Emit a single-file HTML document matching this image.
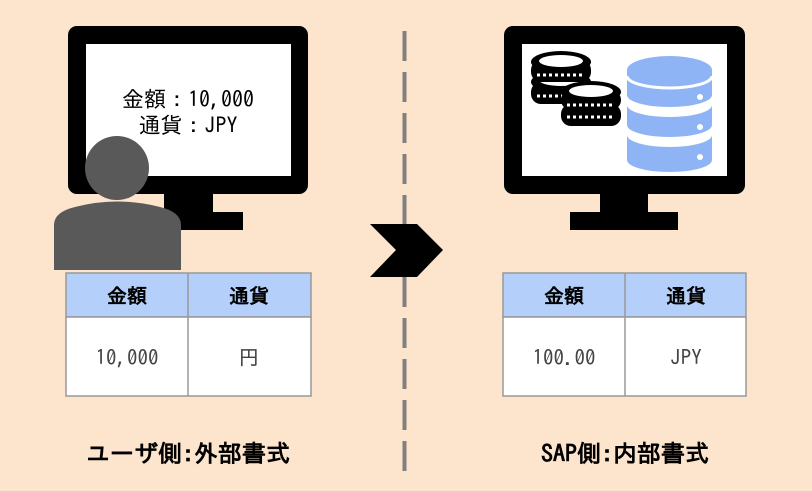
<!DOCTYPE html>
<html><head><meta charset="utf-8"><style>
html,body{margin:0;padding:0;background:#FCE4CD;}
svg{display:block}
text{font-family:"IPAGothic","Noto Sans CJK JP",monospace;}
</style></head><body>
<svg width="812" height="491" viewBox="0 0 812 491" xmlns="http://www.w3.org/2000/svg">
<rect width="812" height="491" fill="#FCE4CD"/>
<line x1="404.5" y1="31" x2="404.5" y2="472" stroke="#808080" stroke-width="4" stroke-dasharray="30 11"/>
<polygon points="370,224 417,224 443,250 417,277 370,277 396,250" fill="#000"/>

<rect x="68" y="26" width="240" height="168" rx="9" fill="#000"/>
<rect x="86" y="44" width="205" height="132" fill="#fff"/>
<rect x="164" y="192" width="49" height="22" fill="#000"/>
<rect x="120" y="212" width="123" height="18" fill="#000"/>
<text x="188" y="107" font-size="22" text-anchor="middle" fill="#000">金額：10,000</text>
<text x="188" y="133" font-size="22" text-anchor="middle" fill="#000">通貨：JPY</text>
<circle cx="117" cy="168" r="32" fill="#595959"/>
<path d="M54,270 L54,225 Q54,212 75,207 Q117,196 160,207 Q181,212 181,225 L181,270 Z" fill="#595959"/>

<rect x="504" y="26" width="241" height="168" rx="9" fill="#000"/>
<rect x="522" y="44" width="205" height="132" fill="#fff"/>
<rect x="600" y="192" width="48" height="22" fill="#000"/>
<rect x="570" y="212" width="108" height="18" fill="#000"/>
<g>
 <g>
  <rect x="531" y="82" width="60" height="22" rx="10" fill="#000"/>
  <ellipse cx="561" cy="82" rx="30" ry="11" fill="#000"/>
  <ellipse cx="561" cy="80" rx="22" ry="6" fill="#fff"/>
  <line x1="537" y1="96" x2="585" y2="96" stroke="#fff" stroke-width="3" stroke-dasharray="3 3"/>
 </g>
 <g>
  <rect x="531" y="60" width="60" height="22" rx="10" fill="#000"/>
  <ellipse cx="561" cy="62" rx="30" ry="11" fill="#000"/>
  <ellipse cx="561" cy="61" rx="22" ry="6" fill="#fff"/>
  <line x1="537" y1="75" x2="585" y2="75" stroke="#fff" stroke-width="3" stroke-dasharray="3 3"/>
 </g>
 <g>
  <rect x="561" y="104" width="60" height="22" rx="10" fill="#000"/>
  <rect x="561" y="90" width="60" height="20" rx="10" fill="#000"/>
  <ellipse cx="591" cy="92" rx="30" ry="11" fill="#000"/>
  <ellipse cx="591" cy="91" rx="22" ry="6" fill="#fff"/>
  <line x1="567" y1="105" x2="615" y2="105" stroke="#fff" stroke-width="3" stroke-dasharray="3 3"/>
  <line x1="567" y1="117" x2="615" y2="117" stroke="#fff" stroke-width="3" stroke-dasharray="3 3"/>
 </g>
</g>
<g fill="#8FB4F5">
 <path d="M627,70 L627,95 A42.5,12 0 0 0 712,95 L712,70 Z"/>
 <ellipse cx="669.5" cy="70" rx="42.5" ry="14"/>
 <path d="M627,105 L627,125 A42.5,12 0 0 0 712,125 L712,105 A42.5,12 0 0 1 627,105 Z"/>
 <path d="M627,135 L627,160 A42.5,12 0 0 0 712,160 L712,135 A42.5,12 0 0 1 627,135 Z"/>
</g>
<path d="M627,76 A42.5,12 0 0 0 712,76" fill="none" stroke="#fff" stroke-width="3"/>
<g fill="#fff"><circle cx="700" cy="97" r="3"/><circle cx="700" cy="127" r="3"/><circle cx="700" cy="157" r="3"/></g>

<rect x="66" y="273" width="245" height="44" fill="#B4CFF9" stroke="#999" stroke-width="1.5"/>
<rect x="66" y="317" width="245" height="79" fill="#fff" stroke="#999" stroke-width="1.5"/>
<line x1="188" y1="273" x2="188" y2="396" stroke="#999" stroke-width="1.5"/>
<text x="127" y="303" font-size="20" font-weight="bold" text-anchor="middle">金額</text>
<text x="249" y="303" font-size="20" font-weight="bold" text-anchor="middle">通貨</text>
<text x="127" y="365" font-size="21" text-anchor="middle" fill="#444">10,000</text>
<text x="249" y="365" font-size="21" text-anchor="middle" fill="#444">円</text>

<rect x="503" y="273" width="243" height="44" fill="#B4CFF9" stroke="#999" stroke-width="1.5"/>
<rect x="503" y="317" width="243" height="79" fill="#fff" stroke="#999" stroke-width="1.5"/>
<line x1="625" y1="273" x2="625" y2="396" stroke="#999" stroke-width="1.5"/>
<text x="564" y="303" font-size="20" font-weight="bold" text-anchor="middle">金額</text>
<text x="686" y="303" font-size="20" font-weight="bold" text-anchor="middle">通貨</text>
<text x="564" y="365" font-size="21" text-anchor="middle" fill="#444">100.00</text>
<text x="686" y="365" font-size="21" text-anchor="middle" fill="#444">JPY</text>

<text x="188" y="462" font-size="24" font-weight="bold" text-anchor="middle">ユーザ側:外部書式</text>
<text x="625" y="462" font-size="24" font-weight="bold" text-anchor="middle">SAP側:内部書式</text>
</svg>
</body></html>
